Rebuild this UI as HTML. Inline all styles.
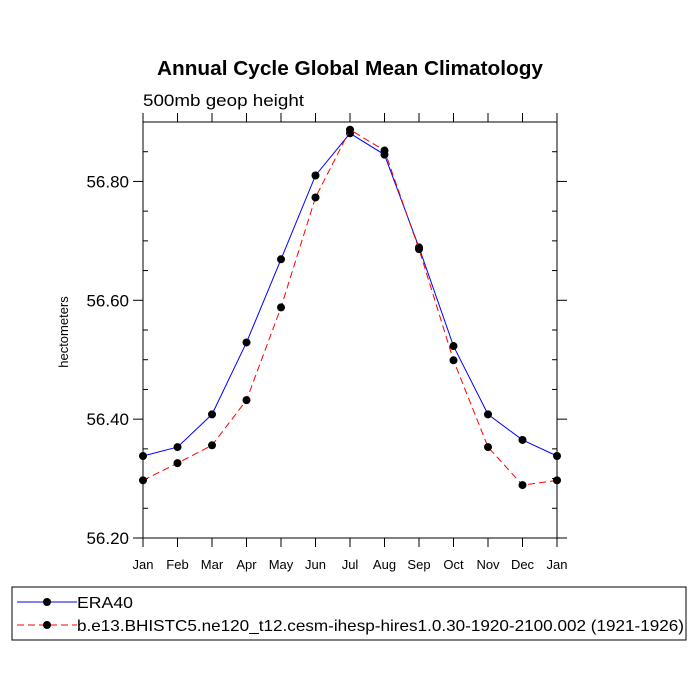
<!DOCTYPE html>
<html><head><meta charset="utf-8"><style>
body{margin:0;background:#fff;}
svg{display:block;font-family:"Liberation Sans",sans-serif;}
</style></head><body>
<svg id="c" width="700" height="700" viewBox="0 0 700 700">
<text x="157" y="75" font-size="20" font-weight="bold" textLength="386" lengthAdjust="spacingAndGlyphs">Annual Cycle Global Mean Climatology</text>
<text x="143" y="106" font-size="17" textLength="161" lengthAdjust="spacingAndGlyphs">500mb geop height</text>
<text transform="translate(68,332) rotate(-90)" text-anchor="middle" font-size="13">hectometers</text>
<g id="axes"></g>
<g id="series"></g>
<rect x="12" y="587" width="674" height="53" fill="none" stroke="#000" stroke-width="1"/>
<g>
<line x1="17" y1="602" x2="77" y2="602" stroke="#00f"/><circle cx="47" cy="602" r="4"/>
<text x="77" y="608" font-size="16" textLength="56" lengthAdjust="spacingAndGlyphs">ERA40</text></g>
<g>
<line x1="17" y1="625" x2="77" y2="625" stroke="#f00" stroke-dasharray="7,4"/><circle cx="47" cy="625" r="4"/>
<text x="77" y="631" font-size="16" textLength="607" lengthAdjust="spacingAndGlyphs">b.e13.BHISTC5.ne120_t12.cesm-ihesp-hires1.0.30-1920-2100.002 (1921-1926)</text></g>
</svg>
<script>
const months=["Jan","Feb","Mar","Apr","May","Jun","Jul","Aug","Sep","Oct","Nov","Dec","Jan"];
const era40=[56.338,56.353,56.408,56.529,56.669,56.810,56.881,56.845,56.689,56.523,56.408,56.365,56.338];
const model=[56.297,56.326,56.356,56.432,56.588,56.773,56.887,56.852,56.686,56.499,56.353,56.289,56.297];
const yTicks=["56.20","56.40","56.60","56.80"];
const NS="http://www.w3.org/2000/svg";
const L=143,R=557,T=122,B=538,ymin=56.2,ymax=56.9;
const xs=i=>L+(R-L)*i/(months.length-1);
const ys=v=>B-(v-ymin)/(ymax-ymin)*(B-T);
function mk(t,a,p){const e=document.createElementNS(NS,t);for(const k in a)e.setAttribute(k,a[k]);p.appendChild(e);return e;}
const ax=document.getElementById('axes');
const fr=mk('rect',{x:L,y:T,width:R-L,height:B-T,fill:'none',stroke:'#000','stroke-width':1},ax);


months.forEach((m,i)=>{const x=xs(i);
mk('line',{x1:x,y1:B,x2:x,y2:B+9,stroke:'#000'},ax);
mk('line',{x1:x,y1:T,x2:x,y2:T-9,stroke:'#000'},ax);
const t=mk('text',{x:x,y:B+31,'text-anchor':'middle','font-size':13},ax);t.textContent=m;

});
for(let v=ymin;v<=ymax+1e-9;v+=0.05){const y=ys(v);
const major=Math.abs(Math.round(v*10)/10-v)<1e-6&&Math.round(v*10)%2===0;
if(major){mk('line',{x1:L,y1:y,x2:L-10,y2:y,stroke:'#000'},ax);mk('line',{x1:R,y1:y,x2:R+10,y2:y,stroke:'#000'},ax);}
else{mk('line',{x1:L,y1:y,x2:L+5,y2:y,stroke:'#000'},ax);mk('line',{x1:R,y1:y,x2:R-5,y2:y,stroke:'#000'},ax);}}
yTicks.forEach(s=>{const t=mk('text',{x:L-14,y:ys(parseFloat(s))+6,'text-anchor':'end','font-size':17},ax);t.textContent=s;

});
const sg=document.getElementById('series');
function series(d,col,dash,name){
const g=mk('g',{},sg);


mk('polyline',{points:d.map((v,i)=>xs(i)+','+ys(v)).join(' '),fill:'none',stroke:col,'stroke-width':1,'stroke-dasharray':dash},g);
d.forEach((v,i)=>{const c=mk('circle',{cx:xs(i),cy:ys(v),r:4,fill:'#000'},g);

});}
series(era40,'#00f','none','series-era40');
series(model,'#f00','7,4','series-model');
</script>
</body></html>
